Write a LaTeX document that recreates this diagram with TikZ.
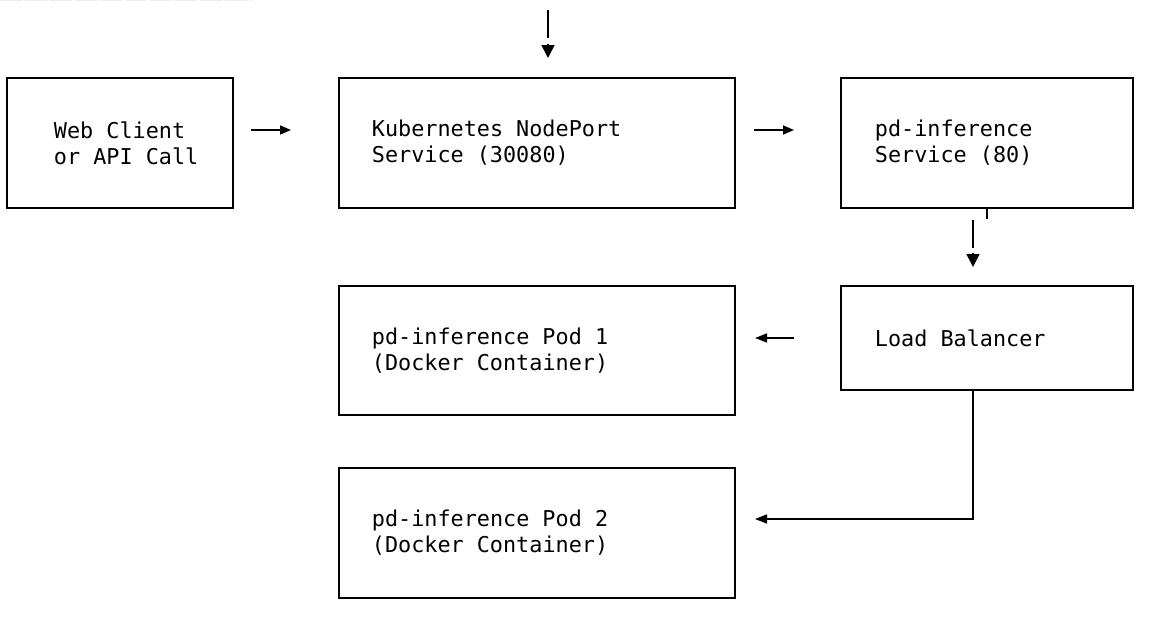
\documentclass[tikz,border=0pt]{standalone}
\usepackage{fontspec}
\newfontfamily\dmono{DejaVu Sans Mono}
\usetikzlibrary{arrows.meta}
\tikzset{
  box/.style={draw, line width=1.8pt, rectangle, align=left, inner xsep=0pt, inner ysep=0pt,
    font=\dmono\fontsize{21.8}{26}\selectfont, anchor=north west},
  pad/.style={execute at begin node={\leftskip=#1\spaceskip=0.602em\relax\xspaceskip=0.602em\relax}},
  link/.style={line width=1.6pt},
  harrow/.style={link, -{Triangle[length=11pt,width=9pt]}},
  vhead/.style={link, -{Triangle[length=13pt,width=13pt]}},
}
\begin{document}
\begin{tikzpicture}[x=1pt,y=-1pt]
\useasboundingbox (0,0) rectangle (1168,624);
\draw[line width=1pt, gray!15, dash pattern=on 22pt off 3pt] (0,0.5) -- (252,0.5);

\node[box, pad=47pt, minimum width=226pt, minimum height=130pt, text width=226pt] (web) at (6,77)
  {Web Client\\or API Call};
\node[box, pad=33pt, minimum width=396pt, minimum height=130pt, text width=396pt] (np) at (338,77)
  {Kubernetes NodePort\\Service (30080)};
\node[box, pad=34pt, minimum width=292pt, minimum height=130pt, text width=292pt] (svc) at (840,77)
  {pd-inference\\Service (80)};
\node[box, pad=34pt, minimum width=292pt, minimum height=104pt, text width=292pt] (lb) at (840,285)
  {Load Balancer};
\node[box, pad=33pt, minimum width=396pt, minimum height=129pt, text width=396pt] (pod1) at (338,285)
  {pd-inference Pod 1\\(Docker Container)};
\node[box, pad=33pt, minimum width=396pt, minimum height=130pt, text width=396pt] (pod2) at (338,467)
  {pd-inference Pod 2\\(Docker Container)};

% top incoming arrow
\coordinate (in1) at (548,10);
\coordinate (in2) at (548,38);
\coordinate (in3) at (548,44);
\coordinate (in4) at (548,58);
\draw[link] (in1) -- (in2);
\draw[vhead] (in3) -- (in4);

% web -> nodeport
\coordinate (a1) at (251,130);
\coordinate (a2) at (291,130);
\draw[harrow] (a1) -- (a2);

% nodeport -> service
\coordinate (b1) at (754,130);
\coordinate (b2) at (794,130);
\draw[harrow] (b1) -- (b2);

% service -> load balancer
\coordinate (t1) at (987,207);
\coordinate (t2) at (987,219);
\draw[line width=1.4pt] (t1) -- (t2);
\coordinate (c1) at (973,220);
\coordinate (c2) at (973,248);
\coordinate (c3) at (973,253);
\coordinate (c4) at (973,267);
\draw[link] (c1) -- (c2);
\draw[vhead] (c3) -- (c4);

% load balancer -> pod 1
\coordinate (d1) at (794,338);
\coordinate (d2) at (755,338);
\draw[link, -{Triangle[length=12pt,width=9pt]}] (d1) -- (d2);

% load balancer -> pod 2
\coordinate (e1) at (973,519);
\coordinate (e2) at (755,519);
\draw[link, -{Triangle[length=12pt,width=9pt]}] (lb.south -| e1) -- (e1) -- (e2);
\end{tikzpicture}
\end{document}
